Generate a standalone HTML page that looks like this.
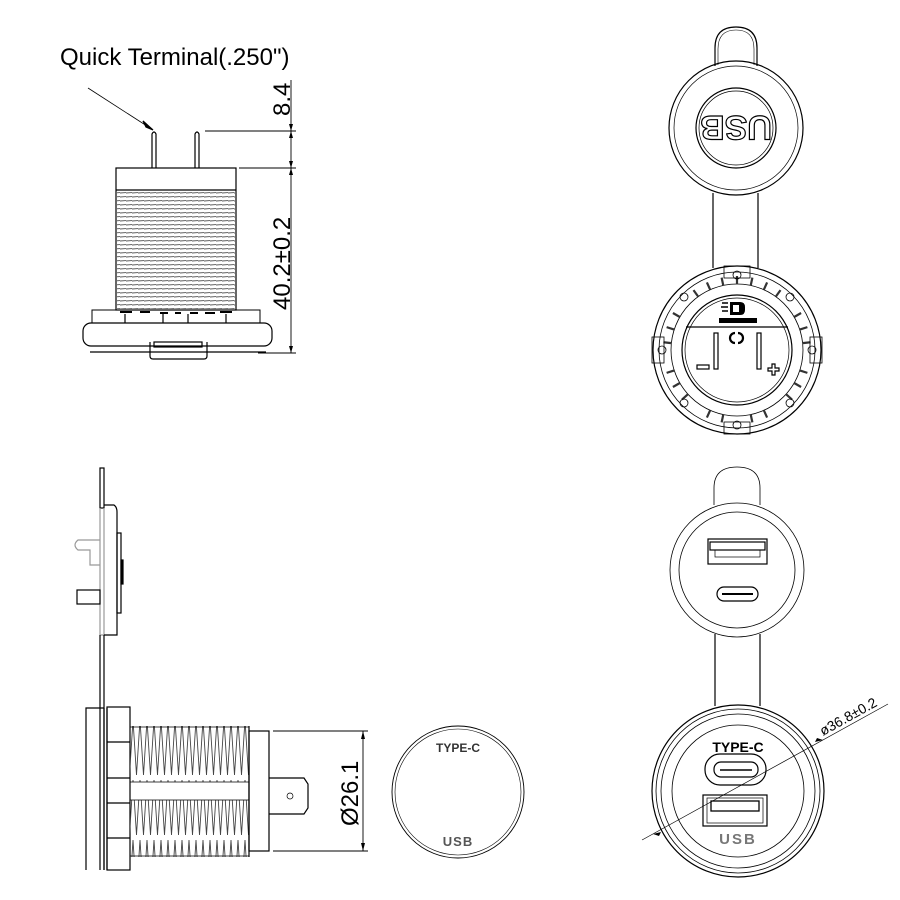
<!DOCTYPE html>
<html><head><style>html,body{margin:0;padding:0;background:#fff}svg{display:block}</style></head>
<body>
<svg width="900" height="900" viewBox="0 0 900 900" xmlns="http://www.w3.org/2000/svg" font-family="Liberation Sans, sans-serif" fill="none" stroke="#000" stroke-width="1.2">
<defs>
<pattern id="hth" width="6" height="4" patternUnits="userSpaceOnUse"><line x1="0" y1="1" x2="6" y2="0.6" stroke="#555" stroke-width="0.9"/></pattern>
<pattern id="vth" width="7" height="60" patternUnits="userSpaceOnUse"><path d="M0 0 L3.5 55 L7 0" stroke="#444" stroke-width="0.9"/></pattern>
</defs>

<!-- ===== Top-left side view ===== -->
<text x="60" y="65" font-size="24" fill="#000" stroke="none">Quick Terminal(.250")</text>
<line x1="88" y1="88" x2="150" y2="128" stroke-width="0.8"/>
<path d="M153 130 L143 121 L146 127 Z" fill="#000"/>
<path d="M152 168 V134 Q154 130 156 134 V168" />
<path d="M195 168 V134 Q197 130 199 134 V168" />
<line x1="205" y1="131" x2="296" y2="131" stroke-width="0.9"/>
<line x1="239" y1="168" x2="296" y2="168" stroke-width="0.9"/>
<line x1="291" y1="80" x2="291" y2="353" stroke-width="0.9"/>
<line x1="258" y1="353" x2="296" y2="353" stroke-width="0.9"/>
<path d="M291 131 l-2 -7 h4z M291 131 l-2 7 h4z M291 168 l-2 -7 h4z M291 168 l-2 7 h4z M291 353 l-2 -7 h4z" fill="#000" stroke="none"/>
<text transform="translate(290,116) rotate(-90)" font-size="24" fill="#000" stroke="none">8.4</text>
<text transform="translate(290,310) rotate(-90)" font-size="24" fill="#000" stroke="none">40.2±0.2</text>
<rect x="116" y="168" width="120" height="142"/>
<line x1="116" y1="190" x2="236" y2="190"/>
<rect x="117" y="191" width="118" height="118" fill="url(#hth)" stroke="none"/>
<path d="M92 310 H260 V323 H92 Z" stroke-width="1"/>
<path d="M120 312 h12 M140 312 h10 M160 313 h8 M175 313 h6 M190 313 h8 M205 313 h10 M220 312 h12" stroke-width="2"/>
<line x1="125" y1="314" x2="125" y2="323"/><line x1="163" y1="314" x2="163" y2="323"/><line x1="188" y1="314" x2="188" y2="323"/><line x1="226" y1="314" x2="226" y2="323"/>
<rect x="83" y="323" width="189" height="23" rx="8"/>
<line x1="90" y1="352" x2="266" y2="352"/>
<path d="M150 342 v14 q0 3 3 3 h51 q3 0 3 -3 v-14"/>
<rect x="154" y="342" width="48" height="5"/>

<!-- ===== Top-right cap back ===== -->
<path d="M715 66 V48 Q715 27 736 27 Q757 27 757 48 V66"/>
<path d="M718 65 V49 Q718 30 736 30 Q754 30 754 49 V65" stroke-width="0.6"/>
<circle cx="736" cy="128" r="67"/>
<circle cx="736" cy="128" r="62" stroke-width="0.7"/>
<circle cx="736" cy="128" r="40"/>
<circle cx="736" cy="128" r="37" stroke-width="0.7"/>
<text transform="translate(736,128) rotate(180)" x="0" y="12" text-anchor="middle" font-size="34" font-weight="bold" fill="#fff" stroke="#000" stroke-width="1.2">USB</text>
<line x1="713" y1="193" x2="713" y2="268"/>
<line x1="758" y1="193" x2="758" y2="268"/>
<circle cx="737" cy="350" r="84"/>
<circle cx="737" cy="350" r="78" stroke-width="0.8"/>
<circle cx="737" cy="350" r="66" stroke-width="0.8"/>
<circle cx="737" cy="350" r="55"/>
<circle cx="737" cy="350" r="52" stroke-width="0.7"/>
<g stroke-width="2.2" stroke="#333">
<g id="tk"><line x1="737" y1="276" x2="737" y2="284"/></g>
<use href="#tk" transform="rotate(12 737 350)"/><use href="#tk" transform="rotate(24 737 350)"/><use href="#tk" transform="rotate(36 737 350)"/><use href="#tk" transform="rotate(60 737 350)"/><use href="#tk" transform="rotate(72 737 350)"/><use href="#tk" transform="rotate(84 737 350)"/><use href="#tk" transform="rotate(108 737 350)"/><use href="#tk" transform="rotate(120 737 350)"/><use href="#tk" transform="rotate(132 737 350)"/><use href="#tk" transform="rotate(156 737 350)"/><use href="#tk" transform="rotate(168 737 350)"/><use href="#tk" transform="rotate(192 737 350)"/><use href="#tk" transform="rotate(204 737 350)"/><use href="#tk" transform="rotate(228 737 350)"/><use href="#tk" transform="rotate(240 737 350)"/><use href="#tk" transform="rotate(252 737 350)"/><use href="#tk" transform="rotate(276 737 350)"/><use href="#tk" transform="rotate(288 737 350)"/><use href="#tk" transform="rotate(300 737 350)"/><use href="#tk" transform="rotate(324 737 350)"/><use href="#tk" transform="rotate(336 737 350)"/><use href="#tk" transform="rotate(348 737 350)"/>
</g>
<g stroke-width="0.8">
<circle cx="737" cy="275" r="4"/><circle cx="737" cy="425" r="4"/><circle cx="662" cy="350" r="4"/><circle cx="812" cy="350" r="4"/>
<circle cx="684" cy="297" r="4"/><circle cx="790" cy="297" r="4"/><circle cx="684" cy="403" r="4"/><circle cx="790" cy="403" r="4"/>
<rect x="724" y="266" width="26" height="12"/><rect x="724" y="422" width="26" height="12"/>
<rect x="652" y="337" width="12" height="26"/><rect x="810" y="337" width="12" height="26"/>
</g>
<line x1="686" y1="327" x2="788" y2="327"/>
<path d="M730 302 h10 q5 0 5 5 v3 q0 5 -5 5 h-10 z M733 305 h6 v7 h-6z" fill="#000" stroke="none" fill-rule="evenodd"/>
<path d="M722 303 h6 M721 307 h7 M722 311 h6" stroke-width="1.5"/>
<rect x="719" y="318" width="38" height="5" fill="#000" stroke="none"/>
<path d="M735 333 a5 5 0 1 0 0 10 M738 333 a5 5 0 1 1 0 10" stroke-width="2.2"/>
<rect x="714" y="333" width="4" height="36"/><rect x="757" y="333" width="4" height="36"/>
<rect x="697" y="365" width="12" height="4"/>
<path d="M768 368 h4 v-4 h3 v4 h4 v3 h-4 v4 h-3 v-4 h-4z"/>

<!-- ===== Bottom-left side view ===== -->
<rect x="100" y="468" width="4" height="40"/>
<path d="M100 508 V635 H104 V508" stroke="#999"/>
<path d="M104 505 H114 Q117 507 117 512 V635 H104"/>
<rect x="117" y="533" width="4" height="80"/>
<rect x="121" y="560" width="2" height="24" fill="#000"/>
<path d="M100 540 H78 Q72 545 78 550 H90 V565 H100" stroke="#999"/>
<rect x="77" y="590" width="23" height="14"/>
<line x1="100" y1="635" x2="100" y2="870"/><line x1="104" y1="635" x2="104" y2="870"/>
<path d="M104 708 H86 V870" />
<path d="M104 708 V870 M107 708 V870"/>
<rect x="107" y="707" width="23" height="163"/>
<line x1="107" y1="742" x2="130" y2="742"/><line x1="107" y1="778" x2="130" y2="778"/><line x1="107" y1="803" x2="130" y2="803"/><line x1="107" y1="838" x2="130" y2="838"/>
<rect x="130" y="726" width="119" height="56" fill="url(#vth)" stroke="none"/>
<rect x="130" y="800" width="119" height="57" fill="url(#vth)" stroke="none"/>
<path d="M130 727 H249 M130 856 H249 M130 782 H249 M130 800 H249" stroke-width="0.8"/>
<line x1="249" y1="726" x2="249" y2="857"/>
<rect x="249" y="731" width="20" height="120"/>
<path d="M269 778 H304 L308 784 V808 L304 814 H269"/>
<circle cx="290" cy="796" r="3" stroke-width="0.7"/>
<line x1="273" y1="731" x2="368" y2="731" stroke-width="0.9"/>
<line x1="273" y1="851" x2="368" y2="851" stroke-width="0.9"/>
<line x1="363" y1="731" x2="363" y2="851" stroke-width="0.9"/>
<path d="M363 731 l-2 8 h4z M363 851 l-2 -8 h4z" fill="#000" stroke="none"/>
<text transform="translate(358,826) rotate(-90)" font-size="24" fill="#000" stroke="none">Ø26.1</text>

<!-- ===== Bottom middle face ===== -->
<circle cx="458" cy="792" r="66" stroke-width="0.9"/>
<circle cx="458" cy="792" r="63" stroke-width="0.6"/>
<text x="458" y="752" text-anchor="middle" font-size="12" font-weight="bold" fill="#333" stroke="none">TYPE-C</text>
<text x="458" y="846" text-anchor="middle" font-size="13" font-weight="bold" fill="#555" stroke="none" letter-spacing="1">USB</text>

<!-- ===== Bottom-right cap front ===== -->
<path d="M714 505 V488 Q714 467 737 467 Q760 467 760 488 V505" stroke-width="0.8"/>
<circle cx="737" cy="570" r="67" stroke-width="0.8"/>
<circle cx="737" cy="570" r="58" stroke-width="0.8"/>
<rect x="708" y="539" width="59" height="25"/>
<rect x="710" y="542" width="55" height="8"/>
<rect x="715" y="550" width="45" height="7" stroke-width="0.7"/>
<rect x="717" y="587" width="41" height="14" rx="7"/>
<line x1="722" y1="594" x2="753" y2="594" stroke-width="2"/>
<line x1="715" y1="634" x2="715" y2="706"/>
<line x1="760" y1="634" x2="760" y2="706"/>
<circle cx="738" cy="791" r="86"/>
<circle cx="738" cy="791" r="82" stroke-width="0.8"/>
<circle cx="738" cy="791" r="77" stroke-width="0.8"/>
<circle cx="738" cy="791" r="66" stroke-width="0.8"/>
<text x="738" y="752" text-anchor="middle" font-size="14" font-weight="bold" fill="#000" stroke="none">TYPE-C</text>
<rect x="705" y="754" width="61" height="31" rx="15"/>
<rect x="714" y="762" width="44" height="15" rx="7"/>
<line x1="720" y1="770" x2="752" y2="770" stroke-width="1.5"/>
<rect x="703" y="795" width="64" height="31"/>
<rect x="707" y="798" width="56" height="25" stroke-width="0.7"/>
<rect x="711" y="801" width="48" height="10" stroke-width="1.3"/>
<text x="738" y="844" text-anchor="middle" font-size="15" font-weight="bold" fill="#777" stroke="none" letter-spacing="2">USB</text>
<line x1="642" y1="840" x2="888" y2="704" stroke-width="0.7"/>
<path d="M653 834 l8 -2 l-2 4z M823 740 l-8 2 l2 -4z" fill="#000" stroke="none"/>
<text transform="translate(823,736) rotate(-29)" font-size="14" fill="#000" stroke="none">ø36.8±0.2</text>
</svg>
</body></html>
